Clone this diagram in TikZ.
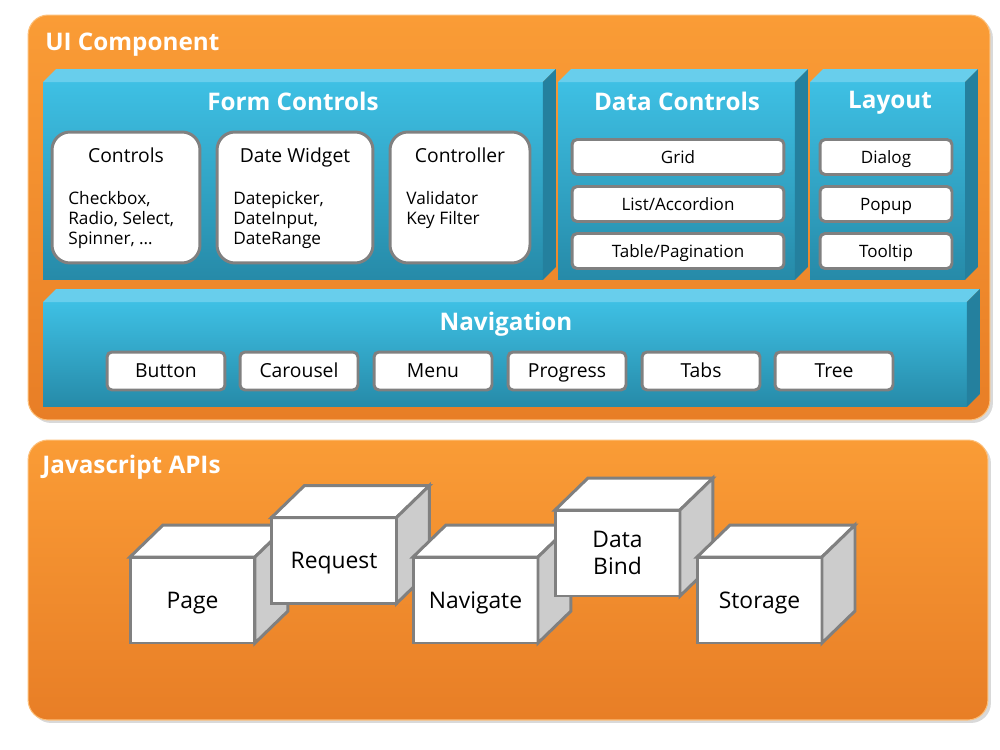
\documentclass[tikz,border=0pt]{standalone}
\usepackage{fontspec}
\setmainfont{Open Sans}
\usetikzlibrary{shadows}
\definecolor{orangetop}{RGB}{250,156,54}
\definecolor{orangebot}{RGB}{232,126,38}
\definecolor{orangeedge}{RGB}{252,190,120}
\definecolor{bluetop}{RGB}{62,192,228}
\definecolor{bluebot}{RGB}{38,138,168}
\definecolor{blueface}{RGB}{104,206,236}
\definecolor{blueside}{RGB}{36,128,158}
\definecolor{boxedge}{RGB}{128,128,128}
\definecolor{cubegray}{RGB}{204,204,204}

\tikzset{
	panel/.style={draw=orangeedge, line width=0.6pt, rounded corners=0.4cm, top color=orangetop, bottom color=orangebot, drop shadow={opacity=0.3, shadow xshift=0.06cm, shadow yshift=-0.06cm}},
	paneltitle/.style={anchor=west, inner sep=0pt, text height=0.72em, text depth=0pt, text=white, font=\fontsize{13.8}{16}\selectfont\bfseries},
	blockfront/.style={top color=bluetop, bottom color=bluebot, inner sep=0pt, outer sep=0pt},
	blocktitle/.style={text=white, text height=0.72em, text depth=0pt, font=\fontsize{13.8}{16}\selectfont\bfseries},
	widget/.style={draw=boxedge, line width=1.7pt, fill=white, rounded corners=0.36cm, minimum height=2.62cm},
	widgettitle/.style={text height=0.72em, text depth=0pt, font=\fontsize{11}{13}\selectfont},
	widgettext/.style={anchor=west, inner sep=0pt, align=left, font=\fontsize{9.8}{11.4}\selectfont},
	listitem/.style={draw=boxedge, line width=1.7pt, fill=white, rounded corners=0.1cm, minimum height=0.7cm, text height=0.72em, text depth=0pt, font=\fontsize{9.7}{11}\selectfont},
	navbutton/.style={listitem, minimum width=2.36cm, minimum height=0.76cm, font=\fontsize{11}{13}\selectfont},
	apicube/.style={draw=boxedge, line width=1.7pt, fill=white, outer sep=0pt, minimum width=2.5cm, minimum height=1.72cm, align=center, text depth=0pt, font=\fontsize{13}{15}\selectfont},
	cubeface/.style={draw=boxedge, line width=1.7pt, fill=white},
	cubeside/.style={draw=boxedge, line width=1.7pt, fill=cubegray},
}

\begin{document}
\begin{tikzpicture}[x=0.02cm, y=-0.02cm]
	\useasboundingbox (0,0) rectangle (1000,750);

	\node[panel, minimum width=19.24cm, minimum height=8.1cm] (ui) at (509,217.5) {};
	\node[paneltitle] (uititle) at (45,44) {UI Component};

	\node[blockfront, minimum width=10cm, minimum height=3.96cm] (form) at (293,181) {};
	\node[blockfront, minimum width=4.74cm, minimum height=3.96cm] (data) at (676.5,181) {};
	\node[blockfront, minimum width=3.1cm, minimum height=3.96cm] (layout) at (887.5,181) {};
	\node[blockfront, minimum width=18.48cm, minimum height=2.1cm] (nav) at (505,354.5) {};
	\foreach \b in {form,data,layout,nav} {
		\fill[blueface] (\b.north west) -- ++(0.26cm,0.26cm) -- ([shift={(0.26cm,0.26cm)}]\b.north east) -- (\b.north east) -- cycle;
		\fill[blueside] (\b.north east) -- ++(0.26cm,0.26cm) -- ([shift={(0.26cm,0.26cm)}]\b.south east) -- (\b.south east) -- cycle;
	}

	\node[blocktitle] (formtitle) at (293,104) {Form Controls};
	\node[blocktitle] (datatitle) at (677,104) {Data Controls};
	\node[blocktitle] (layouttitle) at (890,102) {Layout};
	\node[blocktitle] (navtitle) at (506,324) {Navigation};

	\node[widget, minimum width=2.96cm] (controls) at (126,197.5) {};
	\node[widget, minimum width=3.12cm] (datewidget) at (295,197.5) {};
	\node[widget, minimum width=2.8cm] (controller) at (460,197.5) {};
	\node[widgettitle] (controlstitle) at (126,156) {Controls};
	\node[widgettitle] (datewidgettitle) at (295,156) {Date Widget};
	\node[widgettitle] (controllertitle) at (460,156) {Controller};
	\node[widgettext] (controlstext) at (68,220) {Checkbox,\\Radio, Select,\\Spinner, …};
	\node[widgettext] (datewidgettext) at (233,220) {Datepicker,\\DateInput,\\DateRange};
	\node[widgettext] (controllertext) at (406,210) {Validator\\Key Filter};

	\node[listitem, minimum width=4.24cm] (grid) at (678,157) {Grid};
	\node[listitem, minimum width=4.24cm] (list) at (678,204) {List/Accordion};
	\node[listitem, minimum width=4.24cm] (table) at (678,251) {Table/Pagination};
	\node[listitem, minimum width=2.64cm] (dialog) at (886,157) {Dialog};
	\node[listitem, minimum width=2.64cm] (popup) at (886,204) {Popup};
	\node[listitem, minimum width=2.64cm] (tooltip) at (886,251) {Tooltip};

	\foreach \n/\x/\t in {button/166/Button, carousel/299/Carousel, menu/433/Menu, progress/567/Progress, tabs/701/Tabs, tree/834/Tree}
		\node[navbutton] (\n) at (\x,371) {\t};

	\node[panel, minimum width=19.2cm, minimum height=5.6cm] (js) at (508,580) {};
	\node[paneltitle] (jstitle) at (42,467) {Javascript APIs};

	\foreach \n/\x/\y/\t in {page/192.5/600/Page, request/334/560.5/Request, navigate/475.5/600/Navigate, databind/617.5/553/{Data\\Bind}, storage/759.5/600/Storage} {
		\node[apicube] (\n) at (\x,\y) {\t};
		\filldraw[cubeface] (\n.north west) -- ++(0.66cm,0.64cm) -- ([shift={(0.66cm,0.64cm)}]\n.north east) -- (\n.north east) -- cycle;
		\filldraw[cubeside] (\n.north east) -- ++(0.66cm,0.64cm) -- ([shift={(0.66cm,0.64cm)}]\n.south east) -- (\n.south east) -- cycle;
	}
\end{tikzpicture}
\end{document}
